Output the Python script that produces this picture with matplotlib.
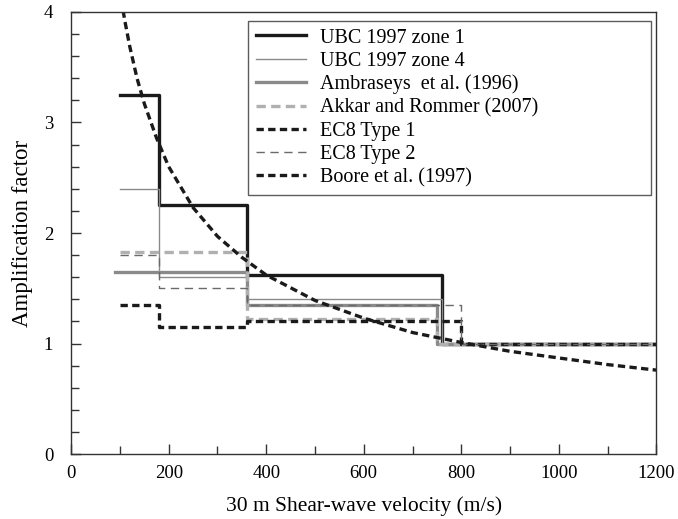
import matplotlib
matplotlib.use("Agg")
import matplotlib.pyplot as plt
from matplotlib.ticker import MultipleLocator

plt.rcParams["font.family"] = ["Liberation Serif", "DejaVu Serif"]

# step-wise site amplification factors (x = Vs30 break points, last value repeated)
ubc1_x = [100, 180, 360, 760, 1200]
ubc1_y = [3.25, 2.25, 1.62, 1.0, 1.0]
ubc4_x = [100, 180, 360, 760, 1200]
ubc4_y = [2.4, 1.6, 1.4, 1.0, 1.0]
amb_x = [90, 360, 750, 1200]
amb_y = [1.65, 1.35, 1.0, 1.0]
akkar_x = [100, 360, 750, 1200]
akkar_y = [1.83, 1.22, 1.0, 1.0]
ec8a_x = [100, 180, 360, 800, 1200]
ec8a_y = [1.35, 1.15, 1.2, 1.0, 1.0]
ec8b_x = [100, 180, 360, 800, 1200]
ec8b_y = [1.8, 1.5, 1.35, 1.0, 1.0]
# Boore et al. (1997) curve
boore_x = [100, 105, 110, 120, 135, 150, 175, 200, 250, 300, 350, 400, 500, 600, 700, 800, 900, 1000, 1100, 1200]
boore_y = [4.18, 4.05, 3.92, 3.69, 3.40, 3.17, 2.86, 2.60, 2.23, 1.97, 1.78, 1.62, 1.39, 1.23, 1.10, 1.01, 0.93, 0.87, 0.81, 0.76]

fig = plt.figure(figsize=(6.78, 5.19), dpi=100)
ax = fig.add_axes([0.105, 0.125, 0.863, 0.852])

ax.step(ubc1_x, ubc1_y, where="post", color="#1a1a1a", lw=2.4, label="UBC 1997 zone 1")
ax.step(ubc4_x, ubc4_y, where="post", color="#8a8a8a", lw=1.0, label="UBC 1997 zone 4")
ax.step(amb_x, amb_y, where="post", color="#8a8a8a", lw=2.4, label="Ambraseys  et al. (1996)")
ax.step(akkar_x, akkar_y, where="post", color="#b0b0b0", lw=2.4, ls=(0, (2.8, 1.6)), label="Akkar and Rommer (2007)")
ax.step(ec8a_x, ec8a_y, where="post", color="#1a1a1a", lw=2.4, ls=(0, (2.2, 1.3)), label="EC8 Type 1")
ax.step(ec8b_x, ec8b_y, where="post", color="#6a6a6a", lw=1.0, ls=(0, (6, 4)), label="EC8 Type 2")
ax.plot(boore_x, boore_y, color="#1a1a1a", lw=2.4, ls=(0, (2.2, 1.3)), label="Boore et al. (1997)")

ax.set_xlim(0, 1200)
ax.set_ylim(0, 4)
ax.xaxis.set_major_locator(MultipleLocator(200))
ax.xaxis.set_minor_locator(MultipleLocator(100))
ax.yaxis.set_major_locator(MultipleLocator(1))
ax.yaxis.set_minor_locator(MultipleLocator(0.2))
ax.tick_params(which="both", direction="in", top=False, right=False, labelsize=13.5, color="#333333")
ax.tick_params(which="major", length=7, width=1.0)
ax.tick_params(which="minor", length=6, width=1.0)
ax.tick_params(axis="x", which="major", pad=8)
ax.tick_params(axis="y", which="major", pad=13)
for s in ax.spines.values():
    s.set_color("#333333")
    s.set_linewidth(1.0)

ax.set_xlabel("30 m Shear-wave velocity (m/s)", fontsize=15.5, labelpad=10)
ax.set_ylabel("Amplification factor", fontsize=16.5, labelpad=8)

leg = ax.legend(loc="upper left", bbox_to_anchor=(0.3026, 0.588, 0.689, 0.392), mode="expand",
                borderaxespad=0, fontsize=14.5, frameon=True, fancybox=False, edgecolor="#333333",
                handlelength=2.5, handletextpad=0.7, labelspacing=0.2, borderpad=0.38)
leg.get_frame().set_linewidth(1.0)

fig.savefig("out.png", dpi=100)
